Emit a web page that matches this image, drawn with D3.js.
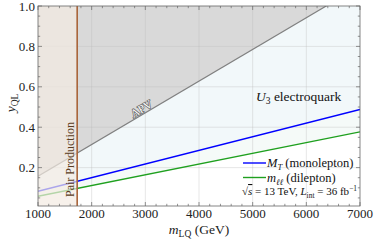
<!DOCTYPE html>
<html>
<head>
<meta charset="utf-8">
<script src="https://cdn.jsdelivr.net/npm/d3@7"></script>
<style>
body { margin: 0; background: #fff; }
text { font-family: "Liberation Serif", "DejaVu Serif", serif; }
</style>
</head>
<body>
<div id="chart_area"></div>
<script>
var width = 374
var height = 241
var margin = {top: 6, right: 14, bottom: 35, left: 38}

// Data
var massRange = [1000, 7000]
var apvMass = [1000, 6370]
var apvCoupling = [0.157, 1.0]
var monoCoupling = [0.083, 0.488]   // M_T (monolepton), at massRange
var dilCoupling = [0.058, 0.377]    // m_ll (dilepton), at massRange
var pairProductionMass = 1730
var xTicks = [1000, 2000, 3000, 4000, 5000, 6000, 7000]
var yTicks = [0.2, 0.4, 0.6, 0.8, 1.0]

var svg = d3.select("#chart_area")
  .append("svg")
  .attr("width", width)
  .attr("height", height)

var x = d3.scaleLinear().domain(massRange).range([margin.left, width - margin.right])
var y = d3.scaleLinear().domain([0.01, 1.0]).range([height - margin.bottom, margin.top])

// coupling as a function of mass for each curve
var apv = d3.scaleLinear().domain(apvMass).range(apvCoupling)
var mono = d3.scaleLinear().domain(massRange).range(monoCoupling)
var dil = d3.scaleLinear().domain(massRange).range(dilCoupling)

svg.append("clipPath").attr("id", "plotclip")
  .append("rect")
  .attr("x", x(massRange[0])).attr("y", y(1))
  .attr("width", x(massRange[1]) - x(massRange[0]))
  .attr("height", y(0.01) - y(1))

var plot = svg.append("g").attr("clip-path", "url(#plotclip)")

var area = d3.area()
  .x(d => x(d))

// excluded by APV
plot.append("path")
  .datum(massRange)
  .attr("d", area.y0(d => y(apv(d))).y1(y(1.2)))
  .attr("fill", "#d9d9d9")

// between monolepton and APV
plot.append("path")
  .datum(massRange)
  .attr("d", area.y0(d => y(mono(d))).y1(d => y(apv(d))))
  .attr("fill", "#f2f8fa")

// between dilepton and monolepton
plot.append("path")
  .datum(massRange)
  .attr("d", area.y0(d => y(dil(d))).y1(d => y(mono(d))))
  .attr("fill", "#f5faf8")

// grid
xTicks.slice(1, -1).forEach(t => {
  plot.append("line")
    .attr("x1", x(t)).attr("x2", x(t))
    .attr("y1", y(0.01)).attr("y2", y(1))
    .attr("stroke", "#bbb").attr("stroke-opacity", 0.5).attr("stroke-width", 0.7)
})
yTicks.slice(0, -1).forEach(t => {
  plot.append("line")
    .attr("x1", x(1000)).attr("x2", x(7000))
    .attr("y1", y(t)).attr("y2", y(t))
    .attr("stroke", "#bbb").attr("stroke-opacity", 0.5).attr("stroke-width", 0.7)
})

var line = d3.line().x(d => x(d))

plot.append("path")
  .datum(massRange)
  .attr("d", line.y(d => y(apv(d))))
  .attr("fill", "none").attr("stroke", "#808080").attr("stroke-width", 1.2)

plot.append("path")
  .datum(massRange)
  .attr("d", line.y(d => y(mono(d))))
  .attr("fill", "none").attr("stroke", "#0000ff").attr("stroke-width", 1.4)

plot.append("path")
  .datum(massRange)
  .attr("d", line.y(d => y(dil(d))))
  .attr("fill", "none").attr("stroke", "#1fa01f").attr("stroke-width", 1.4)

// pair production overlay
plot.append("rect")
  .attr("x", x(massRange[0])).attr("y", y(1))
  .attr("width", x(pairProductionMass) - x(massRange[0]))
  .attr("height", y(0.01) - y(1))
  .attr("fill", "#f3ebe2").attr("fill-opacity", 0.7)

plot.append("line")
  .attr("x1", x(pairProductionMass)).attr("x2", x(pairProductionMass))
  .attr("y1", y(0.01)).attr("y2", y(1))
  .attr("stroke", "#a8643a").attr("stroke-width", 1.6)

// frame and ticks
svg.append("rect")
  .attr("x", x(massRange[0])).attr("y", y(1))
  .attr("width", x(massRange[1]) - x(massRange[0]))
  .attr("height", y(0.01) - y(1))
  .attr("fill", "none").attr("stroke", "#666").attr("stroke-width", 0.8)

var xMinor = d3.range(1000, 7001, 200)
var yMinor = d3.range(0.05, 1.001, 0.05)
var tickG = svg.append("g").attr("stroke", "#666").attr("stroke-width", 0.7)
xMinor.forEach(t => {
  var len = xTicks.indexOf(t) >= 0 ? 4 : 2.2
  tickG.append("line").attr("x1", x(t)).attr("x2", x(t)).attr("y1", y(0.01)).attr("y2", y(0.01) - len)
  tickG.append("line").attr("x1", x(t)).attr("x2", x(t)).attr("y1", y(1)).attr("y2", y(1) + len)
})
yMinor.forEach(t => {
  var major = yTicks.some(v => Math.abs(v - t) < 1e-6)
  var len = major ? 4 : 2.2
  tickG.append("line").attr("x1", x(1000)).attr("x2", x(1000) + len).attr("y1", y(t)).attr("y2", y(t))
  tickG.append("line").attr("x1", x(7000)).attr("x2", x(7000) - len).attr("y1", y(t)).attr("y2", y(t))
})

svg.append("g").selectAll("text")
  .data(xTicks)
  .join("text")
  .attr("x", d => x(d))
  .attr("y", height - 23)
  .attr("text-anchor", "middle")
  .style("font-size", "13px")
  .attr("fill", "#222")
  .text(d => d)

svg.append("g").selectAll("text")
  .data(yTicks)
  .join("text")
  .attr("x", x(1000) - 3)
  .attr("y", d => y(d))
  .attr("dy", "0.35em")
  .attr("text-anchor", "end")
  .style("font-size", "13px")
  .attr("fill", "#222")
  .text(d => d.toFixed(1))

// axis titles
var xt = svg.append("text")
  .attr("x", x(4000))
  .attr("y", height - 7)
  .attr("text-anchor", "middle")
  .style("font-size", "13.5px")
  .attr("fill", "#222")
xt.append("tspan").style("font-style", "italic").text("m")
xt.append("tspan").attr("dy", 3).style("font-size", "9.5px").text("LQ")
xt.append("tspan").attr("dy", -3).text(" (GeV)")

var yt = svg.append("text")
  .attr("transform", "translate(15," + y(0.52) + ") rotate(-90)")
  .attr("text-anchor", "middle")
  .style("font-size", "13.5px")
  .attr("fill", "#222")
yt.append("tspan").style("font-style", "italic").text("y")
yt.append("tspan").attr("dy", 3).style("font-size", "9.5px").text("QL")

// labels
svg.append("text")
  .attr("transform", "translate(" + (x(pairProductionMass) - 3) + "," + y(0.24) + ") rotate(-90)")
  .attr("text-anchor", "middle")
  .style("font-size", "12px")
  .attr("fill", "#5a3c22")
  .text("Pair Production")

var apvAngle = Math.atan2(y(apv(3000)) - y(apv(2000)), x(3000) - x(2000)) * 180 / Math.PI
var apvLabel = svg.append("g")
  .attr("transform", "translate(" + x(2980) + "," + y(apv(2980)) + ") rotate(" + apvAngle + ")")
apvLabel.append("text")
  .attr("text-anchor", "middle")
  .attr("y", -1.5)
  .style("font-size", "11.5px")
  .attr("fill", "#666")
  .attr("stroke", "#666")
  .attr("stroke-width", 1.4)
  .text("APV")
apvLabel.append("text")
  .attr("text-anchor", "middle")
  .attr("y", -1.5)
  .style("font-size", "11.5px")
  .attr("fill", "#fff")
  .text("APV")

var u3 = svg.append("text")
  .attr("x", 256)
  .attr("y", 101)
  .style("font-size", "13.5px")
  .attr("fill", "#111")
u3.append("tspan").style("font-style", "italic").text("U")
u3.append("tspan").attr("dy", 3).style("font-size", "9.5px").text("3")
u3.append("tspan").attr("dy", -3).text(" electroquark")

// legend
var legend = [
  {color: "#0000ff", main: "M", sub: "T", rest: " (monolepton)"},
  {color: "#1fa01f", main: "m", sub: "ℓℓ", rest: " (dilepton)"}
]
legend.forEach((d, i) => {
  var ly = 163 + i * 14.5
  svg.append("line")
    .attr("x1", 243).attr("x2", 266).attr("y1", ly).attr("y2", ly)
    .attr("stroke", d.color).attr("stroke-width", 1.4)
  var t = svg.append("text")
    .attr("x", 267).attr("y", ly + 4)
    .style("font-size", "12.5px")
    .attr("fill", "#111")
  t.append("tspan").style("font-style", "italic").text(d.main)
  t.append("tspan").attr("dy", 3).style("font-size", "8.5px").style("font-style", "italic").text(d.sub)
  t.append("tspan").attr("dy", -3).text(d.rest)
})

var note = svg.append("text")
  .attr("x", 242).attr("y", 195)
  .style("font-size", "11px")
  .attr("fill", "#111")
note.append("tspan").text("√")
note.append("tspan").style("font-style", "italic").style("text-decoration", "overline").text("s")
note.append("tspan").text(" = 13 TeV, ")
note.append("tspan").style("font-style", "italic").text("L")
note.append("tspan").attr("dy", 3).style("font-size", "7.5px").text("int")
note.append("tspan").attr("dy", -3).text(" = 36 fb")
note.append("tspan").attr("dy", -4).style("font-size", "7.5px").text("−1")
</script>
</body>
</html>
